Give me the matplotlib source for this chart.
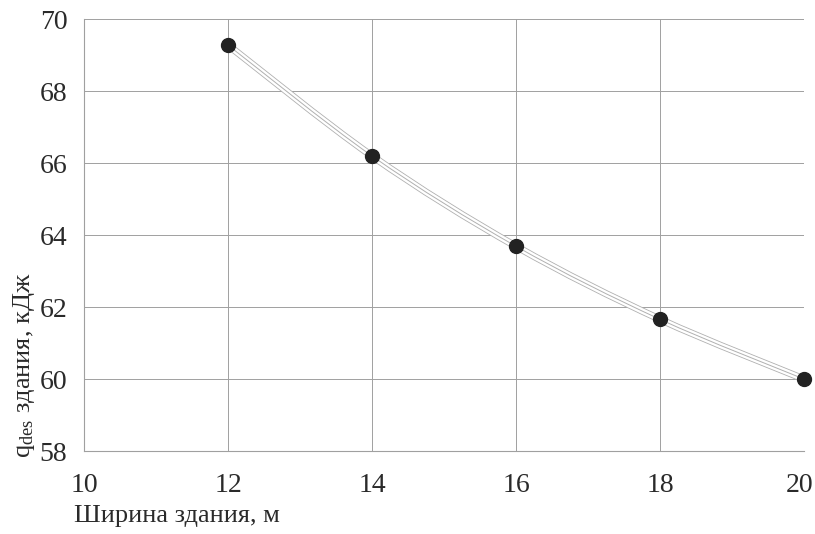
import numpy as np
import matplotlib
matplotlib.use("Agg")
import matplotlib.pyplot as plt
import matplotlib.transforms as mtransforms
from matplotlib.path import Path
from matplotlib.patches import PathPatch

plt.rcParams['font.family'] = ['Liberation Serif', 'DejaVu Serif']
plt.rcParams['mathtext.fontset'] = 'custom'
plt.rcParams['mathtext.rm'] = 'Liberation Serif'
plt.rcParams['mathtext.it'] = 'Liberation Serif'

width_m = [12, 14, 16, 18, 20]
q_des = [69.28, 66.2, 63.69, 61.66, 60.0]
x_ticks = [10, 12, 14, 16, 18, 20]
y_ticks = [58, 60, 62, 64, 66, 68, 70]

fig = plt.figure(figsize=(8.15, 5.34), dpi=100)
ax = fig.add_axes([0.103, 0.155, 0.884, 0.809])
ax.set_xlim(10, 20)
ax.set_ylim(58, 70)
ax.set_xticks(x_ticks)
ax.set_yticks(y_ticks)
ax.grid(True, color='#a0a0a0', linewidth=0.7)
ax.set_axisbelow(True)
for s in ['top', 'right']:
    ax.spines[s].set_visible(False)
for s in ['left', 'bottom']:
    ax.spines[s].set_color('#a0a0a0')
    ax.spines[s].set_linewidth(0.8)
ax.tick_params(length=0, labelsize=20, colors='#2a2a2a')
ax.tick_params(axis='x', pad=16)
ax.tick_params(axis='y', pad=12)

# smooth (Catmull-Rom) path through the data points
xs = np.array(width_m, float)
ys = np.array(q_des, float)
verts = [(xs[0], ys[0])]
codes = [Path.MOVETO]
n = len(xs)
for i in range(n - 1):
    p0 = (xs[max(i - 1, 0)], ys[max(i - 1, 0)])
    p1 = (xs[i], ys[i])
    p2 = (xs[i + 1], ys[i + 1])
    p3 = (xs[min(i + 2, n - 1)], ys[min(i + 2, n - 1)])
    c1 = (p1[0] + (p2[0] - p0[0]) / 6, p1[1] + (p2[1] - p0[1]) / 6)
    c2 = (p2[0] - (p3[0] - p1[0]) / 6, p2[1] - (p3[1] - p1[1]) / 6)
    verts += [c1, c2, p2]
    codes += [Path.CURVE4] * 3
path = Path(verts, codes)
for lw, col in [(5.2, '#b0b0b0'), (4.0, 'white'), (0.7, '#b0b0b0')]:
    ax.add_patch(PathPatch(path, facecolor='none', edgecolor=col, linewidth=lw,
                           capstyle='butt', zorder=3))

ax.plot(width_m, q_des, linestyle='none', marker='o', markersize=10,
        color='#222222', zorder=4, clip_on=False)

# nudge the last x tick label so it stays inside the figure
last = ax.get_xticklabels()[-1]
last.set_transform(last.get_transform() +
                   mtransforms.ScaledTranslation(-5 / 100, 0, fig.dpi_scale_trans))

fig.text(74 / 815, 1 - 516 / 534, 'Ширина здания, м', fontsize=19,
         color='#2a2a2a', ha='left', va='center')
fig.text(24 / 815, 1 - 458 / 534, r'q$_{\mathrm{des}}$ здания, кДж', fontsize=19,
         color='#2a2a2a', ha='center', va='bottom', rotation=90)

fig.savefig('out.png', dpi=100)
